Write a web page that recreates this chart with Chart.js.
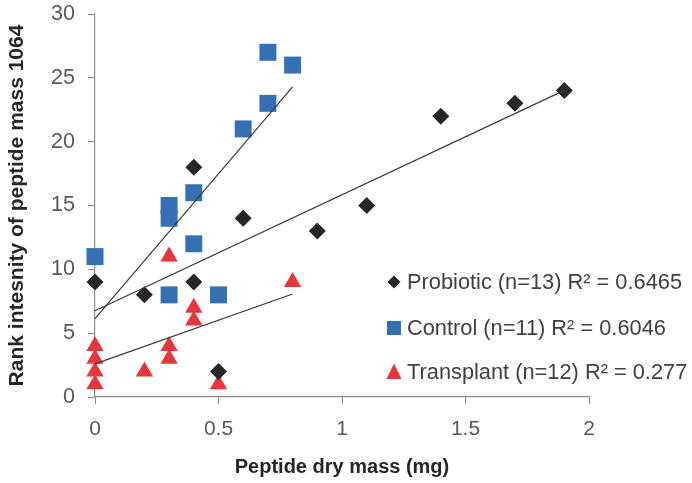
<!DOCTYPE html>
<html>
<head>
<meta charset="utf-8">
<script src="https://cdn.jsdelivr.net/npm/chart.js@4.4.0/dist/chart.umd.min.js"></script>
<style>
  html, body { margin: 0; padding: 0; background: #fff; }
  #wrap { width: 692px; height: 483px; }
</style>
</head>
<body>
<div id="wrap"><canvas id="peptideChart"></canvas></div>
<script>
// Rank intensity of peptide mass 1064 vs peptide dry mass, three groups
const probioticX = [0, 0.2, 0.4, 0.4, 0.5, 0.6, 0.9, 1.1, 1.4, 1.7, 1.9];
const probioticY = [9, 8, 9, 18, 2, 14, 13, 15, 22, 23, 24];
const controlX = [0, 0.3, 0.3, 0.3, 0.4, 0.4, 0.5, 0.6, 0.7, 0.7, 0.8];
const controlY = [11, 8, 14, 15, 12, 16, 8, 21, 23, 27, 26];
const transplantX = [0, 0, 0, 0, 0.2, 0.3, 0.3, 0.3, 0.4, 0.4, 0.5, 0.8];
const transplantY = [4, 3, 2, 1, 2, 11, 4, 3, 7, 6, 1, 9];
const seriesLabels = ['Probiotic (n=13) R\u00b2 = 0.6465', 'Control (n=11) R\u00b2 = 0.6046', 'Transplant (n=12) R\u00b2 = 0.277'];
const xTicks = [0, 0.5, 1, 1.5, 2];
const yTicks = [0, 5, 10, 15, 20, 25, 30];

const colors = ['#262626', '#3570B7', '#E8353A'];
const styles = ['rectRot', 'rect', 'triangle'];
const radii = [8.5, 12, 10];

function toPoints(xs, ys) {
    return xs.map((x, i) => ({ x: x, y: ys[i] }));
}

// ordinary least squares, like the Excel linear trendline
function trendline(xs, ys) {
    const n = xs.length;
    const mx = xs.reduce((a, b) => a + b, 0) / n;
    const my = ys.reduce((a, b) => a + b, 0) / n;
    let sxy = 0, sxx = 0;
    for (let i = 0; i < n; i++) {
        sxy += (xs[i] - mx) * (ys[i] - my);
        sxx += (xs[i] - mx) * (xs[i] - mx);
    }
    const slope = sxy / sxx;
    const icpt = my - slope * mx;
    const x0 = Math.min(...xs), x1 = Math.max(...xs);
    return [{ x: x0, y: icpt + slope * x0 }, { x: x1, y: icpt + slope * x1 }];
}

const groups = [[probioticX, probioticY], [controlX, controlY], [transplantX, transplantY]];

const datasets = [];
groups.forEach((g, i) => {
    datasets.push({
        type: 'scatter',
        label: seriesLabels[i],
        data: toPoints(g[0], g[1]),
        pointStyle: styles[i],
        pointRadius: radii[i],
        pointHoverRadius: radii[i],
        backgroundColor: colors[i],
        borderColor: colors[i],
        borderWidth: 0,
        clip: false,
        order: 2
    });
});
groups.forEach((g) => {
    datasets.push({
        type: 'line',
        label: '',
        isTrend: true,
        data: trendline(g[0], g[1]),
        borderColor: '#3a3a3a',
        borderWidth: 1.2,
        pointRadius: 0,
        fill: false,
        clip: false,
        order: 1
    });
});

// legend drawn inside the plot area, as in the original
const innerLegend = {
    id: 'innerLegend',
    afterDraw(chart) {
        const ctx = chart.ctx;
        const mx = 394, tx = 407, rows = [282, 328, 372];
        ctx.save();
        ctx.font = '21.8px "Liberation Sans", Arial, sans-serif';
        ctx.textBaseline = 'middle';
        ctx.textAlign = 'left';
        chart.data.datasets.filter(d => !d.isTrend).forEach((d, i) => {
            const y = rows[i];
            ctx.fillStyle = d.backgroundColor;
            ctx.beginPath();
            if (d.pointStyle === 'rectRot') {
                ctx.moveTo(mx, y - 6.5); ctx.lineTo(mx + 6.5, y); ctx.lineTo(mx, y + 6.5); ctx.lineTo(mx - 6.5, y);
            } else if (d.pointStyle === 'rect') {
                ctx.rect(mx - 7, y - 7, 14, 14);
            } else {
                ctx.moveTo(mx, y - 8.5); ctx.lineTo(mx + 7.5, y + 7); ctx.lineTo(mx - 7.5, y + 7);
            }
            ctx.closePath();
            ctx.fill();
            ctx.fillStyle = '#404040';
            ctx.fillText(d.label, tx, y + 1);
        });
        ctx.restore();
    }
};

const ctx = document.getElementById('peptideChart').getContext('2d');
const peptideChart = new Chart(ctx, {
    data: { datasets: datasets },
    options: {
        responsive: true,
        maintainAspectRatio: false,
        animation: false,
        layout: { padding: { top: 14, right: 103, left: 0, bottom: 0 } },
        plugins: {
            legend: { display: false },
            tooltip: { enabled: false }
        },
        scales: {
            x: {
                type: 'linear',
                min: 0,
                max: 2,
                afterBuildTicks: (s) => { s.ticks = xTicks.map(v => ({ value: v })); },
                afterFit: (s) => { s.height = 86; s.paddingLeft = 0; s.paddingRight = 0; },
                border: { color: '#8c8c8c', width: 1.2 },
                grid: { drawOnChartArea: false, drawTicks: true, tickLength: 7, color: '#8c8c8c' },
                ticks: {
                    color: '#595959',
                    font: { family: '"Liberation Sans", Arial, sans-serif', size: 21 },
                    padding: 13,
                    maxRotation: 0,
                    callback: (v) => String(v)
                },
                title: {
                    display: true,
                    text: 'Peptide dry mass (mg)',
                    color: '#262626',
                    font: { family: '"Liberation Sans", Arial, sans-serif', size: 20, weight: 'bold' },
                    padding: { top: 10 }
                }
            },
            y: {
                type: 'linear',
                min: 0,
                max: 30,
                afterBuildTicks: (s) => { s.ticks = yTicks.map(v => ({ value: v })); },
                afterFit: (s) => { s.width = 95; s.paddingTop = 0; s.paddingBottom = 0; },
                border: { color: '#8c8c8c', width: 1.2 },
                grid: { drawOnChartArea: false, drawTicks: true, tickLength: 7, color: '#8c8c8c' },
                ticks: {
                    color: '#595959',
                    font: { family: '"Liberation Sans", Arial, sans-serif', size: 21.5 },
                    padding: 13
                },
                title: {
                    display: true,
                    text: 'Rank intesnity of peptide mass 1064',
                    color: '#262626',
                    font: { family: '"Liberation Sans", Arial, sans-serif', size: 21, weight: 'bold' },
                    padding: { top: 5, bottom: 4 }
                }
            }
        }
    },
    plugins: [innerLegend]
});
</script>
</body>
</html>
